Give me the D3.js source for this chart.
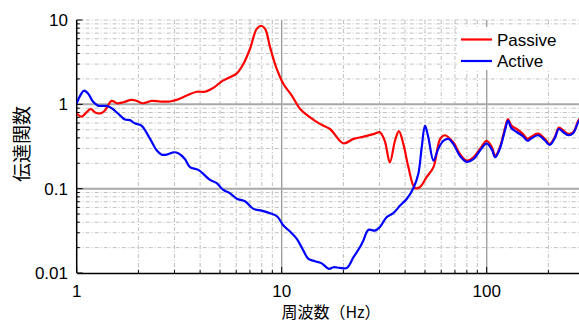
<!DOCTYPE html>
<html><head><meta charset="utf-8">
<script src="https://cdn.jsdelivr.net/npm/d3@7"></script>
<style>html,body{margin:0;padding:0;background:#fff;overflow:hidden}</style>
</head><body><svg id="c" width="579" height="323"></svg>
<script>
const freqPassive = [1.00,1.057,1.098,1.17,1.23,1.30,1.37,1.48,1.57,1.69,1.85,1.96,2.11,2.32,2.55,2.85,3.07,3.44,3.85,4.22,4.63,5.10,5.49,6.04,6.50,7.00,7.55,7.93,8.30,8.78,9.40,10.2,11.2,12.3,13.6,15.35,17.2,20.0,22.4,25.1,28.5,30.1,31.8,33.7,35.7,37.3,39.2,41.5,44.6,47.1,50.9,55.0,59.3,62.6,68.7,74.0,80.0,86.4,92.9,100,106,110,116,123,127,132,140,150,158,164,178,192,203,215,225,236,250,264,280,300];
const valPassive = [0.78,0.715,0.77,0.88,0.80,0.78,0.84,1.10,1.03,1.06,1.13,1.10,1.03,1.10,1.08,1.08,1.13,1.27,1.41,1.41,1.56,1.87,2.05,2.33,3.01,4.53,7.85,8.55,7.85,4.74,2.74,1.74,1.27,0.88,0.715,0.586,0.51,0.345,0.389,0.414,0.45,0.466,0.37,0.205,0.37,0.48,0.34,0.18,0.102,0.104,0.137,0.18,0.389,0.43,0.355,0.258,0.215,0.236,0.297,0.37,0.31,0.246,0.31,0.53,0.67,0.56,0.51,0.446,0.39,0.41,0.45,0.39,0.34,0.41,0.53,0.49,0.446,0.466,0.64,0.8];
const freqActive = [1.00,1.04,1.085,1.14,1.20,1.27,1.40,1.48,1.63,1.72,1.82,1.92,2.07,2.28,2.46,2.60,2.75,2.96,3.13,3.37,3.57,3.92,4.47,4.82,5.19,5.6,6.04,6.62,7.28,7.98,8.77,9.51,10.2,10.95,11.85,12.7,13.5,14.5,15.6,17.0,17.9,19.2,20.8,22.4,24.1,25.0,26.5,28.5,30.1,32.5,35.0,37.8,40.8,44.1,46.4,48.2,50.0,51.9,55,58.0,61.5,65,68.7,74,80,86.4,92.9,100,106,110,116,123,127,132,140,150,158,164,178,192,203,215,225,236,250,264,280,300];
const valActive = [1.03,1.27,1.45,1.33,1.08,0.965,0.957,0.90,0.735,0.66,0.65,0.595,0.56,0.389,0.283,0.253,0.253,0.27,0.263,0.225,0.180,0.167,0.127,0.116,0.0966,0.088,0.076,0.071,0.0576,0.055,0.0512,0.0468,0.0365,0.0313,0.0254,0.0188,0.0147,0.0138,0.0131,0.0112,0.0117,0.0115,0.0115,0.0154,0.0203,0.0242,0.0325,0.0318,0.035,0.0458,0.0512,0.063,0.076,0.104,0.15,0.31,0.56,0.407,0.215,0.296,0.37,0.389,0.34,0.245,0.208,0.225,0.285,0.345,0.29,0.236,0.30,0.50,0.64,0.52,0.47,0.42,0.37,0.39,0.43,0.375,0.33,0.40,0.51,0.47,0.43,0.455,0.62,0.8];
const xTickLabels = ["1","10","100"];
const yTickLabels = ["0.01","0.1","1","10"];
const seriesNames = ["Passive","Active"];
const seriesColors = ["#ff0000","#0000ff"];
const xTitle = "周波数（Hz）";
const yTitle = "伝達関数";

const svg = d3.select("#c");
const x = d3.scaleLog().domain([1,300]).range([76.7, 76.7+205*Math.log10(300)]);
const y = d3.scaleLog().domain([0.01,10]).range([273, 20]);
const W = 579;

// minor grid
const g = svg.append("g");
const xMinor = [], yMinor = [];
for (let d of [1,10,100]) for (let k=2;k<=9;k++){ if (d*k<=300) xMinor.push(d*k); }
for (let d of [0.01,0.1,1]) for (let k=2;k<=9;k++) yMinor.push(d*k);
g.selectAll(".vx").data(xMinor).join("line")
  .attr("x1",d=>x(d)).attr("x2",d=>x(d)).attr("y1",y(10)).attr("y2",y(0.01))
  .attr("stroke","#c0c0c0").attr("stroke-width",1).attr("stroke-dasharray","4,2,1,2");
g.selectAll(".hy").data(yMinor.concat([10])).join("line")
  .attr("x1",x(1)).attr("x2",W).attr("y1",d=>y(d)).attr("y2",d=>y(d))
  .attr("stroke","#c0c0c0").attr("stroke-width",1).attr("stroke-dasharray","4,2,1,2");
// major grid
g.selectAll(".mx").data([10,100]).join("line")
  .attr("x1",d=>x(d)).attr("x2",d=>x(d)).attr("y1",y(10)).attr("y2",y(0.01))
  .attr("stroke","#a0a0a0").attr("stroke-width",1.4);
g.selectAll(".my").data([0.1,1]).join("line")
  .attr("x1",x(1)).attr("x2",W).attr("y1",d=>y(d)).attr("y2",d=>y(d))
  .attr("stroke","#a8a8a8").attr("stroke-width",2);

// axes
const xAx = d3.axisBottom(x).tickValues([1,10,100].concat(xMinor)).tickSize(0).tickFormat("");
svg.append("g").attr("transform",`translate(0,${y(0.01)})`).call(xAx)
  .call(s=>s.select(".domain").attr("stroke","#000").attr("stroke-width",1.5));
svg.append("g").selectAll("line").data([1,10,100].concat(xMinor)).join("line")
  .attr("x1",d=>x(d)).attr("x2",d=>x(d)).attr("y1",y(0.01)).attr("y2",d=>y(0.01)-([1,10,100].includes(d)?6:3))
  .attr("stroke","#000").attr("stroke-width",1);
svg.append("line").attr("x1",x(1)).attr("x2",x(1)).attr("y1",y(10)).attr("y2",y(0.01))
  .attr("stroke","#000").attr("stroke-width",1.5);
svg.append("g").selectAll("line").data([0.01,0.1,1,10].concat(yMinor)).join("line")
  .attr("x1",x(1)).attr("x2",d=>x(1)+([0.01,0.1,1,10].includes(d)?6:3)).attr("y1",d=>y(d)).attr("y2",d=>y(d))
  .attr("stroke","#000").attr("stroke-width",1);

// tick labels
svg.append("g").selectAll("text").data(yTickLabels).join("text")
  .attr("x",68).attr("y",d=>y(+d)).attr("dy","0.36em").attr("text-anchor","end")
  .attr("font-family","Liberation Sans, Arial, sans-serif").attr("font-size",17).text(d=>d);
svg.append("g").selectAll("text").data(xTickLabels).join("text")
  .attr("x",d=>x(+d)).attr("y",297).attr("text-anchor","middle")
  .attr("font-family","Liberation Sans, Arial, sans-serif").attr("font-size",17).text(d=>d);

// titles
svg.append("text").attr("x",331).attr("y",318).attr("text-anchor","middle")
  .attr("font-family","Noto Sans CJK JP, sans-serif").attr("font-size",16).text(xTitle);
svg.append("text").attr("transform","translate(29,144) rotate(-90)").attr("text-anchor","middle")
  .attr("font-family","Noto Sans CJK JP, sans-serif").attr("font-size",19).text(yTitle);

// lines
const clip = svg.append("clipPath").attr("id","pc").append("rect")
  .attr("x",x(1)).attr("y",y(10)-5).attr("width",W-x(1)).attr("height",y(0.01)-y(10)+5);
const line = d3.line().x(d=>x(d[0])).y(d=>y(d[1])).curve(d3.curveCatmullRom.alpha(0.5));
const data = [d3.zip(freqPassive,valPassive), d3.zip(freqActive,valActive)];
svg.append("g").attr("clip-path","url(#pc)").selectAll("path").data(data).join("path")
  .attr("d",line).attr("fill","none").attr("stroke",(d,i)=>seriesColors[i]).attr("stroke-width",2.2)
  .attr("stroke-linejoin","round");

// legend
const lg = svg.append("g");
lg.append("rect").attr("x",457).attr("y",27).attr("width",W-457).attr("height",43).attr("fill","#fff");
seriesNames.forEach((n,i)=>{
  const yy = 39.5 + i*21.5;
  lg.append("line").attr("x1",461).attr("x2",492).attr("y1",yy).attr("y2",yy)
    .attr("stroke",seriesColors[i]).attr("stroke-width",2.2);
  lg.append("text").attr("x",497).attr("y",yy+6).attr("font-family","Liberation Sans, Arial, sans-serif")
    .attr("font-size",17).text(n);
});
</script></body></html>
